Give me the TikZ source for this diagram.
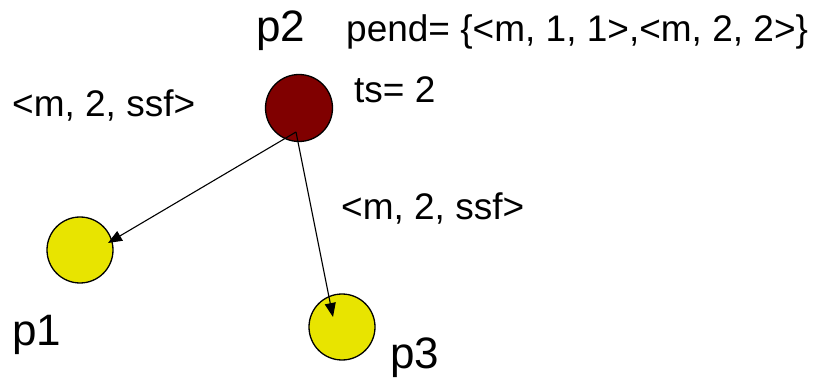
\documentclass[tikz,border=0pt]{standalone}
\usepackage{fontspec}
\setmainfont{Liberation Sans}
\usetikzlibrary{arrows.meta}
\definecolor{darkred}{RGB}{128,0,0}
\definecolor{procyellow}{RGB}{232,228,0}
\begin{document}
\begin{tikzpicture}[x=1pt,y=-1pt,
  proc/.style={draw=black,line width=1.3pt,circle,inner sep=0},
  lbl/.style={inner sep=0,anchor=base west,font=\fontsize{37}{42}\selectfont},
  plbl/.style={inner sep=0,anchor=base west,font=\fontsize{44}{50}\selectfont},
  msg/.style={line width=1.1pt,-{Triangle[length=14pt,width=11pt]}}]
\useasboundingbox (0,0) rectangle (817,382);
\node[proc,fill=darkred,minimum size=67pt] (p2) at (299,108) {};
\node[proc,fill=procyellow,minimum size=66pt] (p1) at (80,250) {};
\node[proc,fill=procyellow,minimum size=66pt] (p3) at (342,327) {};
\coordinate (src) at (296,132);
\coordinate (t1) at (108,243);
\coordinate (t3) at (333,317);
\draw[msg] (src) -- (t1);
\draw[msg] (src) -- (t3);
\node[plbl] (lp2) at (256,42) {p2};
\node[plbl] (lp1) at (12,345) {p1};
\node[plbl] (lp3) at (390,368) {p3};
\node[lbl] (pend) at (346,42) {pend= \{<m, 1, 1>,<m, 2, 2>\}};
\node[lbl] (ts) at (354,103) {ts= 2};
\node[lbl] (m1) at (12,117) {<m, 2, ssf>};
\node[lbl] (m2) at (341,220) {<m, 2, ssf>};
\end{tikzpicture}
\end{document}
